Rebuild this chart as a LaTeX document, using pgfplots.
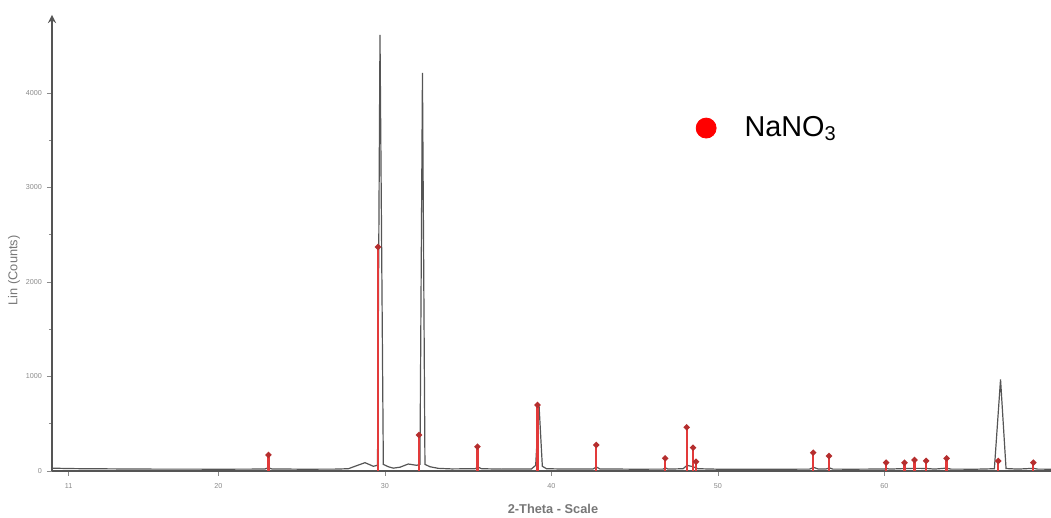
\documentclass[border=0pt]{standalone}
\usepackage{fontspec}
\setmainfont{Liberation Sans}
\usepackage{pgfplots}
\pgfplotsset{compat=1.18}
\definecolor{scan}{HTML}{555555}
\definecolor{stick}{HTML}{E23A3A}
\definecolor{ticktext}{HTML}{8A8A8A}

\begin{document}
\begin{tikzpicture}
\begin{axis}[
    scale only axis,
    width=499.5pt, height=228pt,
    xmin=10, xmax=70,
    ymin=0, ymax=4825,
    axis x line=bottom,
    axis y line=left,
    x axis line style={-, line width=0.8pt, color=scan},
    y axis line style={-stealth, line width=0.8pt, color=scan},
    xtick={11,20,30,40,50,60},
    ytick={0,1000,2000,3000,4000},
    minor x tick num=1,
    minor y tick num=1,
    tick align=outside,
    major tick length=2.5pt,
    minor tick length=1.5pt,
    tick style={ticktext, line width=0.3pt},
    tick label style={font=\fontsize{3.6}{4}\selectfont, text=ticktext},
    yticklabel style={xshift=1pt},
    /pgf/number format/assume math mode=true,
    /pgf/number format/1000 sep={},
    xlabel={2-Theta - Scale},
    ylabel={Lin (Counts)},
    xlabel style={font=\fontsize{6.4}{7}\selectfont\bfseries, text=scan!80, at={(rel axis cs:0.5015,0)}, anchor=north, yshift=-13pt},
    ylabel style={font=\fontsize{6.4}{7}\selectfont, text=scan!80, at={(rel axis cs:0,0.44)}, anchor=south, yshift=12.5pt},
    clip=false,
    legend style={draw=none, fill=none, at={(rel axis cs:0.638,0.752)}, anchor=west,
        font=\fontsize{14.4}{17}\selectfont},
    legend cell align=left,
]
% measured scan
\addplot[scan, line width=0.6pt, forget plot] coordinates {
(10.0,30)(11.0,26)(12.0,24)(14.0,22)(16.0,20)(18.0,20)(20.0,19)(22.0,20)
(22.8,22)(23.0,34)(23.2,22)(25.0,19)(27.0,20)(27.8,24)(28.2,50)(28.8,88)
(29.3,50)(29.55,60)(29.7,4614)(29.9,70)(30.2,45)(30.5,30)(30.9,40)(31.4,74)
(31.9,60)(32.1,70)(32.25,4212)(32.4,70)(32.7,45)(33.2,28)(34.0,22)(35.4,24)
(35.6,40)(35.8,24)(37.0,20)(38.8,22)(39.05,60)(39.25,703)(39.45,50)(39.7,24)
(41.0,20)(42.5,22)(42.7,42)(42.9,22)(45.0,19)(46.7,20)(46.85,32)(47.0,20)
(47.9,24)(48.15,60)(48.5,45)(48.8,24)(50.0,19)(52.0,19)(54.0,19)(55.5,20)
(55.75,38)(56.0,22)(56.5,22)(56.7,32)(56.9,20)(58.0,19)(60.0,21)(60.1,28)
(60.3,20)(61.2,26)(61.8,28)(62.5,27)(63.0,20)(63.7,30)(64.0,20)(65.5,19)
(66.6,24)(66.97,970)(67.3,26)(68.0,20)(68.94,28)(69.2,20)(70.0,19)
};
% reference sticks (NaNO3)
\addplot[stick, line width=1.1pt, ycomb, mark=*, mark size=0.9pt,
    mark options={fill=stick!80!black, draw=stick!80!black}, forget plot] coordinates {
(23.0,170)(29.58,2370)(32.04,381)(35.55,257)(39.16,698)(42.69,275)
(46.83,134)(48.12,462)(48.5,247)(48.68,98)(55.72,194)(56.67,159)
(60.1,88)(61.2,88)(61.8,116)(62.5,106)(63.73,134)(66.83,106)(68.94,88)
};
\addlegendimage{legend image code/.code={\fill[red] (0.12cm,0cm) circle (5pt);}}
\addlegendentry{\hspace{12pt}NaNO\textsubscript{3}}
\end{axis}
\pgfresetboundingbox
\path[use as bounding box] (-26pt,-23.5pt) rectangle (499.5pt,235.5pt);
\end{tikzpicture}
\end{document}
